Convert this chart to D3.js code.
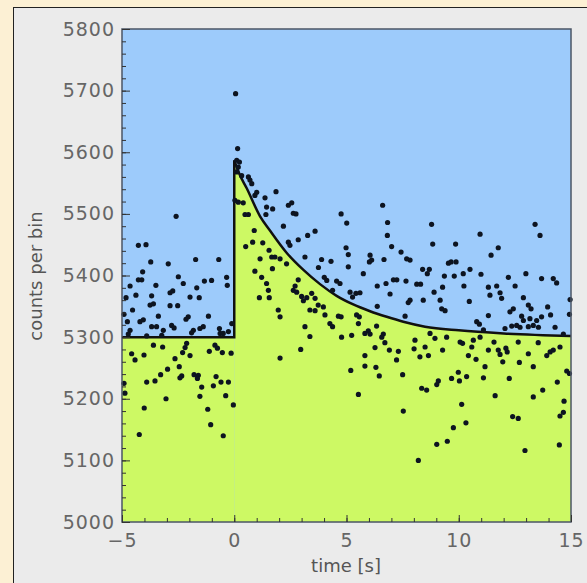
<!DOCTYPE html>
<html>
<head>
<meta charset="utf-8">
<script src="https://cdn.jsdelivr.net/npm/d3@7"></script>
<style>
  body { margin: 0; background: #fcf0d4; }
  svg { display: block; }
</style>
</head>
<body>
<div id="graph"></div>
<script>
// counts before the trigger (t < 0)
var preTimes = [-2.59,-4.27,-3.93,-3.72,-2.94,-1.72,-0.69,-4.08,-4.27,-4.12,-4.64,-3.49,-2.49,-2.27,-1.33,-1.01,-0.34,-0.31,
  -4.82,-4.38,-3.68,-2.86,-2.74,-1.97,-1.67,-1.56,-3.75,-3.60,-2.86,-2.52,-4.53,-4.91,-3.38,-2.05,-2.15,-1.15,-4.76,-4.20,
  -3.46,-2.79,-2.68,-1.38,-0.66,-0.11,-4.64,-3.16,-1.82,-4.72,-3.23,-1.90,-0.63,-3.90,
  -3.68,-1.53,-0.49,-0.26,-4.05,
  -3.60,-3.19,-4.57,-4.42,-4.02,-2.12,-2.19,-2.30,-1.97,-1.11,-0.86,-0.75,-0.53,-0.14,-2.64,-2.45,-2.97,-3.28,-2.34,-2.42,
  -1.79,-1.60,-1.64,-0.81,-3.90,-3.53,-4.91,-4.87,-1.45,-0.93,-0.59,-0.26,-3.04,-1.53,-0.38,-4.01,-1.18,-0.04,-1.05,-4.23,-0.49];
var preCounts = [5496,5449,5450,5422,5419,5426,5426,5406,5393,5393,5383,5384,5398,5387,5391,5392,5397,5384,
  5364,5368,5367,5372,5375,5365,5380,5364,5352,5354,5351,5351,5344,5337,5334,5333,5329,5334,5325,5325,
  5317,5319,5315,5317,5314,5322,5311,5311,5311,5305,5303,5307,5306,5302,
  5317,5314,5306,5309,5328,
  5287,5284,5273,5263,5271,5290,5283,5275,5270,5277,5287,5282,5275,5274,5265,5252,5248,5239,5237,5234,
  5239,5238,5233,5236,5227,5229,5225,5209,5219,5221,5227,5227,5200,5204,5205,5185,5183,5190,5158,5142,5140];

// counts after the trigger (t > 0)
var postTimes = [0.06,0.15,0.11,0.23,0.18,0.11,0.33,0.63,0.70,0.78,1.00,0.03,
  0.18,0.40,0.48,0.63,0.92,1.37,1.44,1.71,1.41,0.89,0.82,1.27,0.51,1.55,1.15,1.67,0.92,1.22,1.44,1.52,1.12,1.56,1.70,
  1.86,2.41,2.56,2.63,2.75,2.19,4.76,5.01,6.61,6.83,6.82,3.27,3.60,2.85,2.41,2.48,4.98,5.08,3.15,3.89,4.31,3.75,5.08,
  6.05,6.12,6.02,6.67,7.01,7.43,7.68,7.83,8.39,5.75,4.01,4.12,4.56,4.71,4.38,6.37,6.76,7.09,7.24,7.65,8.13,8.30,6.94,
  7.83,7.75,5.16,5.27,5.42,5.60,6.37,7.61,
  1.81,2.04,2.33,2.85,2.71,2.63,2.78,3.00,3.23,3.45,3.60,3.08,3.74,3.97,1.96,2.04,3.37,3.60,4.04,4.26,4.38,4.64,4.76,
  3.15,3.37,4.78,5.23,5.45,5.57,5.97,6.05,5.82,6.34,6.64,5.53,
  8.79,13.40,13.62,10.95,8.84,9.86,11.76,11.44,9.54,9.66,9.88,8.69,8.60,10.50,10.20,9.36,9.80,10.99,12.21,12.99,13.69,
  14.21,14.36,9.28,10.23,11.32,11.69,12.51,8.90,11.39,11.84,11.91,8.42,9.17,10.47,12.88,13.10,13.22,13.96,14.96,9.24,
  9.39,12.28,12.43,11.32,12.80,12.88,13.17,13.47,13.69,14.09,14.93,10.80,10.92,11.10,12.06,12.36,12.58,12.73,13.10,
  13.32,13.55,14.29,14.66,8.72,10.95,
  2.96,2.04,6.27,5.82,5.82,5.19,6.31,6.46,6.71,6.91,7.31,7.23,7.50,8.05,8.01,8.27,8.35,5.53,7.53,8.20,6.57,
  8.50,8.65,8.94,9.46,9.28,10.06,10.17,10.65,10.58,10.43,10.77,11.32,11.57,11.76,11.84,12.10,12.16,11.96,12.65,13.10,
  13.54,12.70,13.32,13.92,14.07,14.21,14.51,11.17,9.98,9.68,9.09,9.02,10.03,10.35,11.10,12.25,8.57,14.39,14.81,14.93,
  11.62,13.32,13.74,10.13,14.69,14.66,14.51,12.40,12.65,10.32,9.76,9.49,9.02,12.95,14.48];
var postCounts = [5695,5606,5587,5584,5576,5568,5562,5560,5555,5549,5535,5522,
  5519,5518,5499,5499,5530,5526,5511,5508,5499,5473,5454,5453,5447,5441,5427,5430,5407,5397,5387,5376,5364,5364,5411,
  5536,5514,5518,5501,5500,5480,5500,5485,5514,5486,5465,5465,5472,5458,5454,5449,5445,5434,5430,5426,5423,5413,5414,
  5433,5425,5422,5426,5447,5438,5427,5425,5410,5403,5397,5392,5391,5387,5376,5383,5387,5393,5393,5391,5386,5386,5370,
  5360,5356,5373,5365,5371,5372,5350,5334,
  5430,5427,5419,5393,5383,5376,5373,5366,5364,5371,5363,5359,5352,5349,5344,5333,5344,5343,5336,5322,5317,5334,5333,
  5317,5301,5300,5303,5336,5333,5310,5305,5306,5318,5305,5322,
  5483,5483,5465,5467,5451,5451,5445,5433,5420,5422,5422,5410,5403,5410,5403,5399,5399,5402,5397,5403,5395,
  5395,5388,5381,5383,5381,5383,5383,5373,5368,5372,5363,5360,5360,5358,5364,5352,5346,5349,5361,5346,
  5343,5341,5346,5335,5334,5327,5330,5327,5333,5336,5337,5325,5321,5312,5314,5318,5319,5316,5317,
  5319,5316,5316,5305,5306,5300,
  5280,5266,5283,5270,5253,5246,5251,5237,5291,5279,5277,5263,5239,5295,5281,5268,5217,5207,5180,5100,5300,
  5284,5270,5298,5300,5279,5292,5290,5295,5284,5270,5264,5279,5292,5279,5272,5282,5276,5260,5292,5273,
  5291,5259,5252,5270,5276,5279,5284,5252,5243,5233,5229,5223,5229,5236,5234,5233,5214,5227,5245,5241,
  5205,5203,5214,5191,5196,5178,5172,5171,5168,5161,5153,5131,5126,5116,5125];

// fitted level: flat before the trigger, decaying after it
var baseTimes = [-5, 0];
var baseCounts = [5300, 5300];
var fitTimes = [0, 0.25, 0.55, 1.15, 1.59, 2.33, 3.08, 3.82, 4.56, 5.30, 6.05, 6.79, 7.53, 8.5, 10, 12, 15];
var fitCounts = [5587, 5563, 5542, 5496, 5473, 5437, 5409, 5386, 5367, 5353, 5342, 5333, 5325, 5317, 5311, 5306, 5302];

var xTicks = [-5, 0, 5, 10, 15];
var yTicks = [5000, 5100, 5200, 5300, 5400, 5500, 5600, 5700, 5800];

var margin = {top: 29, right: 16, bottom: 61, left: 122},
    width = 587 - margin.left - margin.right,
    height = 583 - margin.top - margin.bottom;

var root = d3.select("#graph")
  .append("svg")
    .attr("width", 587)
    .attr("height", 583);

// grey panel
root.append("rect")
  .attr("x", 13.5).attr("y", 7.5)
  .attr("width", 600).attr("height", 600)
  .attr("fill", "#ebebeb")
  .attr("stroke", "#222");

var svg = root.append("g")
  .attr("transform", "translate(" + margin.left + "," + margin.top + ")");

var x = d3.scaleLinear().domain([-5, 15]).range([0, width]);
var y = d3.scaleLinear().domain([5000, 5800]).range([height, 0]);

// blue above the fit
svg.append("rect")
  .attr("width", width).attr("height", height)
  .attr("fill", "#9dcbfb");

var basePts = baseTimes.map(function(t, i) { return [t, baseCounts[i]]; });
var fitPts = fitTimes.map(function(t, i) { return [t, fitCounts[i]]; });

// green below the fit
var area = d3.area()
  .x(function(d) { return x(d[0]); })
  .y0(height)
  .y1(function(d) { return y(d[1]); });
svg.append("path").attr("d", area(basePts)).attr("fill", "#cdf964");
svg.append("path").attr("d", area.curve(d3.curveMonotoneX)(fitPts)).attr("fill", "#cdf964");

var line = d3.line()
  .x(function(d) { return x(d[0]); })
  .y(function(d) { return y(d[1]); });
svg.append("path")
  .attr("d", line(basePts.concat([fitPts[0]])))
  .style("fill", "none").style("stroke", "#111").style("stroke-width", 2.5);
svg.append("path")
  .attr("d", line.curve(d3.curveMonotoneX)(fitPts))
  .style("fill", "none").style("stroke", "#111").style("stroke-width", 2.5);

// points
var pts = preTimes.map(function(t, i) { return [t, preCounts[i]]; })
  .concat(postTimes.map(function(t, i) { return [t, postCounts[i]]; }));
svg.selectAll("circle")
  .data(pts)
  .enter()
  .append("circle")
    .attr("cx", function(d) { return x(d[0]); })
    .attr("cy", function(d) { return y(d[1]); })
    .attr("r", 2.6)
    .attr("fill", "#0d1420");

// frame
svg.append("rect")
  .attr("width", width).attr("height", height)
  .attr("fill", "none")
  .attr("stroke", "#4b5666")
  .attr("stroke-width", 1.5);

// axes: minor and major ticks pointing inwards
function styleAxis(g) {
  g.select(".domain").remove();
  g.selectAll("line").attr("stroke", "#333");
  g.selectAll("text")
    .attr("fill", "#666")
    .style("font-family", "DejaVu Sans")
    .style("font-size", "19px")
    .style("letter-spacing", "1px");
}

svg.append("g")
  .attr("transform", "translate(0," + height + ")")
  .call(d3.axisBottom(x).ticks(20).tickSize(-4).tickFormat(""))
  .call(styleAxis);
svg.append("g")
  .attr("transform", "translate(0," + height + ")")
  .call(d3.axisBottom(x).tickValues(xTicks).tickSize(-7).tickPadding(11.5))
  .call(styleAxis);

svg.append("g")
  .call(d3.axisLeft(y).ticks(40).tickSize(-4).tickFormat(""))
  .call(styleAxis);
svg.append("g")
  .call(d3.axisLeft(y).tickValues(yTicks).tickSize(-8).tickPadding(7).tickFormat(d3.format("d")))
  .call(styleAxis);

// axis titles
root.append("text")
  .attr("x", 346).attr("y", 572)
  .attr("text-anchor", "middle")
  .attr("fill", "#555")
  .style("font-family", "DejaVu Sans")
  .style("font-size", "18px")
  .text("time [s]");

root.append("text")
  .attr("transform", "translate(42,276) rotate(-90)")
  .attr("text-anchor", "middle")
  .attr("fill", "#555")
  .style("font-family", "DejaVu Sans")
  .style("font-size", "18px")
  .text("counts per bin");
</script>
</body>
</html>
